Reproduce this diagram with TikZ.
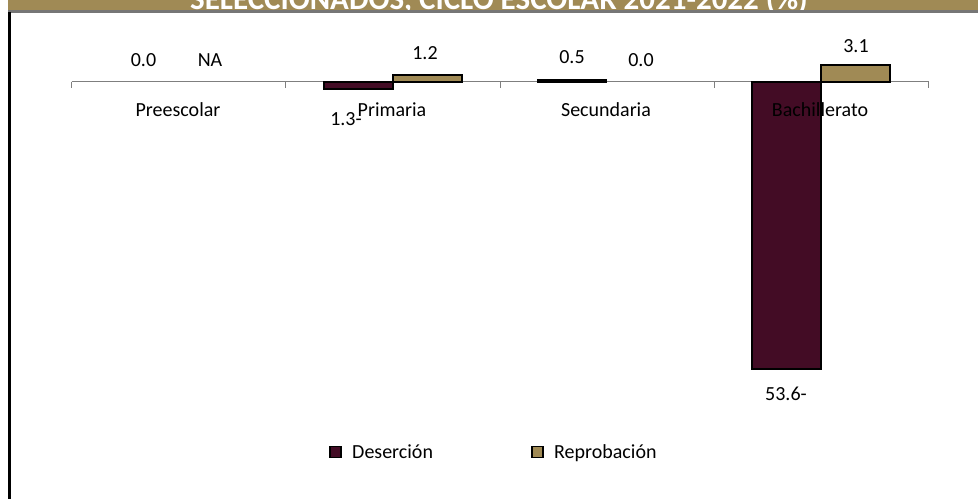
\documentclass[tikz,border=0pt]{standalone}
\usepackage{fontspec}
\setmainfont{Carlito}
\usepackage{xcolor}
\definecolor{desercion}{HTML}{430C25}
\definecolor{reprobacion}{HTML}{A08A55}
\definecolor{stripgray}{HTML}{767676}
\definecolor{axisgray}{HTML}{7F7F7F}

\begin{document}
\begin{tikzpicture}[x=1pt, y=-1pt,
 bars/.style={draw=black, line width=2pt},
 values/.style={anchor=base, inner sep=0pt, font=\fontsize{20}{24}\selectfont},
 keys/.style={draw=black, line width=1.5pt, minimum size=11pt, inner sep=0pt}]

 \useasboundingbox (0,0) rectangle (978,499);

 % title band, cut at the top of the page
 \begin{scope}
 \clip (0,0) rectangle (978,499);
 \fill[reprobacion] (8,0) rectangle (978,10);
 \node[anchor=base, inner sep=0pt, text=white, font=\bfseries\fontsize{31}{36}\selectfont] (title) at (499,9.5)
     {SELECCIONADOS, CICLO ESCOLAR 2021-2022 (\%)};
 \end{scope}
 \fill[stripgray] (8,9.5) rectangle (978,12.5);
 \fill[black] (8.2,12) rectangle (11.2,499);

 % axis
 \draw[axisgray, line width=1pt] (71.5,81.5) -- (928.5,81.5);
 \foreach \x in {71.5,285.75,500,714.25,928.5}
  \draw[axisgray, line width=1pt] (\x,81.5) -- (\x,88);

 % bars
 \draw[bars, fill=desercion] (323.5,81.5) rectangle (392.75,88.5);
 \draw[bars, fill=reprobacion] (392.75,75.1) rectangle (462,81.5);
 \draw[bars, fill=desercion] (537.5,79.5) rectangle (606,81.5);
 \draw[bars, fill=desercion] (751.5,81.5) rectangle (821,368.5);
 \draw[bars, fill=reprobacion] (821,65) rectangle (890,81.5);


 \node[values] (pre_des) at (143.5,66)
     {0.0};

 \node[values] (pre_rep) at (210,66)
     {NA};

 \node[values] (pri_des) at (346,125)
     {1.3-};

 \node[values] (pri_rep) at (425,59)
     {1.2};

 \node[values] (sec_des) at (572,63)
     {0.5};

 \node[values] (sec_rep) at (641,66)
     {0.0};

 \node[values] (bach_des) at (786,400)
     {53.6-};

 \node[values] (bach_rep) at (856,52)
     {3.1};


 \node[values] (preescolar) at (178,116)
     {Preescolar};

 \node[values] (primaria) at (392,116)
     {Primaria};

 \node[values] (secundaria) at (606,116)
     {Secundaria};

 \node[values] (bachillerato) at (820,116)
     {Bachillerato};


 % legend
 \node[keys, fill=desercion] (key_des) at (335.25,452)
     {};
 \node[values, anchor=base west] (label_des) at (352,458)
     {Deserción};

 \node[keys, fill=reprobacion] (key_rep) at (537.25,452)
     {};
 \node[values, anchor=base west] (label_rep) at (554,458)
     {Reprobación};

\end{tikzpicture}
\end{document}
